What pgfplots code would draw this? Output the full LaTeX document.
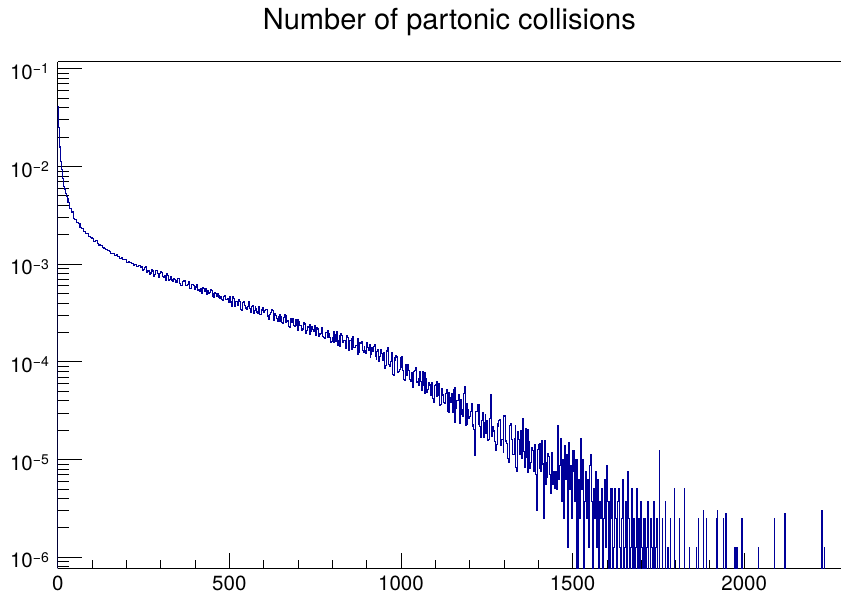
\documentclass[border=0pt]{standalone}
\usepackage{fontspec}
\setmainfont{TeX Gyre Heros}
\usepackage{pgfplots}
\pgfplotsset{compat=1.18}
\definecolor{rootblue}{rgb}{0,0,0.6}
\newcommand{\tp}[1]{10\raisebox{5.5bp}{\fontsize{14bp}{14bp}\selectfont −#1}}
\begin{document}
\begin{tikzpicture}
\useasboundingbox (0,0) rectangle (841bp,595bp);
\begin{axis}[
  at={(57.7bp,26.7bp)}, anchor=south west,
  width=783.3bp, height=506.6bp, scale only axis,
  xmin=0, xmax=2282, ymin=7.71e-7, ymax=0.118, ymode=log,
  axis x line*=box, axis y line*=left,
  tick pos=left, tick align=inside,
  xtick={0,500,1000,1500,2000}, xticklabels={0,500,1000,1500,2000},
  minor x tick num=4,
  ytick={1e-6,1e-5,1e-4,1e-3,1e-2,1e-1},
  yticklabels={\tp{6},\tp{5},\tp{4},\tp{3},\tp{2},\tp{1}},
  minor ytick={8e-7,9e-7,2e-6,3e-6,4e-6,5e-6,6e-6,7e-6,8e-6,9e-6,2e-5,3e-5,4e-5,5e-5,6e-5,7e-5,8e-5,9e-5,2e-4,3e-4,4e-4,5e-4,6e-4,7e-4,8e-4,9e-4,2e-3,3e-3,4e-3,5e-3,6e-3,7e-3,8e-3,9e-3,2e-2,3e-2,4e-2,5e-2,6e-2,7e-2,8e-2,9e-2},
  every major x tick/.append style={/pgfplots/major tick length=15.7bp},
  every minor x tick/.append style={/pgfplots/minor tick length=8.3bp},
  every major y tick/.append style={/pgfplots/major tick length=24bp},
  every minor y tick/.append style={/pgfplots/minor tick length=11.5bp},
  tick style={black, line width=0.8bp},
  axis line style={black, line width=0.8bp},
  xticklabel style={anchor=base, inner sep=0pt, yshift=-21.7bp, font=\fontsize{20.5bp}{20.5bp}\selectfont},
  yticklabel style={anchor=base east, inner sep=0pt, xshift=-8.7bp, yshift=-10.6bp, font=\fontsize{20.5bp}{20.5bp}\selectfont},
  title={Number of partonic collisions},
  every axis title/.style={at={(0.5,1)}, anchor=base, inner sep=0pt, yshift=32.4bp, font=\fontsize{29bp}{29bp}\selectfont},
]
\addplot[const plot mark left, rootblue, line width=1.1bp, no marks] coordinates {
(0,1e-9) (0,0.041) (1,0.034) (2,0.029) (3,0.0248) (4,0.0212) (5,0.0182) (6,0.0158) (7,0.0139) (8,0.0124) (9,0.0112)
(10,0.0103) (11,0.00967) (12,0.0093) (13,0.0083) (14,0.00799) (15,0.0075) (16,0.0072) (17,0.0064) (18,0.0062) (19,0.00604)
(20,0.00588) (21,0.0059) (22,0.0054) (23,0.00543) (24,0.00529) (25,0.0053) (26,0.0049) (27,0.00489) (28,0.00476) (29,0.00464)
(30,4.30e-3) (35,3.70e-3) (40,3.42e-3) (45,2.96e-3) (50,2.87e-3) (55,2.64e-3) (60,2.58e-3) (65,2.35e-3) (70,2.33e-3) (75,2.17e-3)
(80,2.05e-3) (85,2.04e-3) (90,1.90e-3) (95,1.89e-3)
(100,1.83e-3) (105,1.72e-3) (110,1.74e-3) (115,1.63e-3) (120,1.57e-3) (125,1.56e-3) (130,1.47e-3) (135,1.46e-3) (140,1.41e-3) (145,1.38e-3)
(150,1.35e-3) (155,1.29e-3) (160,1.29e-3) (165,1.23e-3) (170,1.25e-3) (175,1.21e-3) (180,1.15e-3) (185,1.16e-3) (190,1.12e-3) (195,1.11e-3)
(200,1.05e-3) (205,1.07e-3) (210,1.04e-3) (215,1.02e-3) (220,9.7e-4) (225,9.9e-4) (230,9.5e-4) (235,9.6e-4) (240,9.2e-4)
(245,9.54e-4) (247.5,8.53e-4) (250,8.75e-4) (252.5,9.19e-4) (255,9.48e-4) (257.5,9.41e-4) (260,8.15e-4) (262.5,8.51e-4) (265,8.65e-4) (267.5,7.91e-4)
(270,8.12e-4) (272.5,8.80e-4) (275,8.61e-4) (277.5,8.35e-4) (280,7.55e-4) (282.5,7.82e-4) (285,8.54e-4) (287.5,8.54e-4) (290,7.98e-4) (292.5,7.29e-4)
(295,7.48e-4) (297.5,7.99e-4) (300,8.37e-4) (302.5,8.13e-4) (305,7.52e-4) (307.5,7.35e-4) (310,7.71e-4) (312.5,7.48e-4) (315,6.89e-4) (317.5,7.96e-4)
(320,7.60e-4) (322.5,6.80e-4) (325,6.97e-4) (327.5,7.44e-4) (330,7.55e-4) (332.5,6.88e-4) (335,6.60e-4) (337.5,7.05e-4) (340,7.00e-4) (342.5,6.51e-4)
(345,6.74e-4) (347.5,6.47e-4) (350,7.06e-4) (352.5,7.07e-4) (355,6.34e-4) (357.5,6.03e-4) (360,6.03e-4) (362.5,6.61e-4) (365,6.62e-4) (367.5,6.72e-4)
(370,6.76e-4) (372.5,6.07e-4) (375,6.07e-4) (377.5,6.18e-4) (380,6.18e-4) (382.5,6.57e-4) (385,5.65e-4) (387.5,5.61e-4) (390,6.24e-4) (392.5,6.15e-4)
(395,6.01e-4) (397.5,5.69e-4) (400,5.46e-4) (402.5,5.83e-4) (405,6.16e-4) (407.5,5.39e-4) (410,5.44e-4) (412.5,5.27e-4) (415,5.54e-4) (417.5,5.68e-4)
(420,5.02e-4) (422.5,5.81e-4) (425,5.60e-4) (427.5,5.25e-4) (430,5.64e-4) (432.5,4.88e-4) (435,4.97e-4) (437.5,5.43e-4) (440,5.06e-4) (442.5,5.14e-4)
(445,5.44e-4) (447.5,5.43e-4) (450,4.96e-4) (452.5,4.65e-4) (455,4.61e-4) (457.5,5.08e-4) (460,5.01e-4) (462.5,4.70e-4) (465,5.05e-4) (467.5,4.82e-4)
(470,4.52e-4) (472.5,4.45e-4) (475,4.71e-4) (477.5,4.35e-4) (480,4.25e-4) (482.5,4.69e-4) (485,4.73e-4) (487.5,4.80e-4) (490,4.33e-4) (492.5,4.34e-4)
(495,4.42e-4) (497.5,4.04e-4)
(500,4.66e-4) (502.5,4.18e-4) (505,4.08e-4) (507.5,3.73e-4) (510,4.68e-4) (512.5,4.48e-4) (515,3.70e-4) (517.5,4.15e-4) (520,4.12e-4) (522.5,3.78e-4)
(525,3.75e-4) (527.5,4.39e-4) (530,4.16e-4) (532.5,3.41e-4) (535,3.39e-4) (537.5,4.02e-4) (540,4.19e-4) (542.5,4.16e-4) (545,3.79e-4) (547.5,3.56e-4)
(550,3.44e-4) (552.5,3.70e-4) (555,4.16e-4) (557.5,4.13e-4) (560,3.53e-4) (562.5,3.22e-4) (565,3.71e-4) (567.5,3.78e-4) (570,3.11e-4) (572.5,3.36e-4)
(575,3.70e-4) (577.5,3.54e-4) (580,3.24e-4) (582.5,3.13e-4) (585,3.72e-4) (587.5,3.05e-4) (590,3.02e-4) (592.5,3.47e-4) (595,3.36e-4) (597.5,3.63e-4)
(600,3.19e-4) (602.5,3.34e-4) (605,3.47e-4) (607.5,3.45e-4) (610,2.93e-4) (612.5,2.95e-4) (615,2.73e-4) (617.5,3.07e-4) (620,3.20e-4) (622.5,3.41e-4)
(625,3.35e-4) (627.5,2.67e-4) (630,2.83e-4) (632.5,3.12e-4) (635,2.95e-4) (637.5,2.78e-4) (640,2.57e-4) (642.5,2.92e-4) (645,3.05e-4) (647.5,2.59e-4)
(650,2.90e-4) (652.5,2.52e-4) (655,2.50e-4) (657.5,2.87e-4) (660,3.06e-4) (662.5,3.00e-4) (665,2.53e-4) (667.5,2.58e-4) (670,2.63e-4) (672.5,2.30e-4)
(675,2.25e-4) (677.5,2.77e-4) (680,2.72e-4) (682.5,2.56e-4) (685,2.78e-4) (687.5,2.34e-4) (690,2.29e-4) (692.5,2.72e-4) (695,2.38e-4) (697.5,2.11e-4)
(700,2.69e-4) (702.5,2.58e-4) (705,2.34e-4) (707.5,2.38e-4) (710,2.10e-4) (712.5,2.17e-4) (715,2.43e-4) (717.5,2.53e-4) (720,2.48e-4) (722.5,1.96e-4)
(725,2.09e-4) (727.5,2.31e-4) (730,2.27e-4) (732.5,2.39e-4) (735,1.92e-4) (737.5,2.05e-4) (740,2.31e-4) (742.5,2.13e-4) (745,2.03e-4) (747.5,2.37e-4)
(750,2.11e-4) (752.5,1.85e-4) (755,2.26e-4) (757.5,2.17e-4) (760,1.84e-4) (762.5,1.93e-4) (765,1.94e-4) (767.5,2.03e-4) (770,2.23e-4) (772.5,1.81e-4)
(775,1.79e-4) (777.5,1.75e-4) (780,1.98e-4) (782.5,2.00e-4) (785,1.78e-4) (787.5,2.09e-4) (790,1.97e-4) (792.5,1.79e-4) (795,1.59e-4) (797.5,1.61e-4)
(800,1.77e-4) (802.5,1.58e-4) (805,2.03e-4) (807.5,1.91e-4) (810,1.60e-4) (812.5,2.05e-4) (815,1.46e-4) (817.5,1.65e-4) (820,1.84e-4) (822.5,1.43e-4)
(825,1.97e-4) (827.5,1.86e-4) (830,1.57e-4) (832.5,1.67e-4) (835,1.66e-4) (837.5,1.48e-4) (840,1.38e-4) (842.5,1.84e-4) (845,1.77e-4) (847.5,1.30e-4)
(850,1.65e-4) (852.5,1.64e-4) (855,1.35e-4) (857.5,1.73e-4) (860,1.81e-4) (862.5,1.40e-4) (865,1.39e-4) (867.5,1.48e-4) (870,1.47e-4) (872.5,1.75e-4)
(875,1.20e-4) (877.5,1.24e-4) (880,1.57e-4) (882.5,1.56e-4) (885,1.62e-4) (887.5,1.32e-4) (890,1.24e-4) (892.5,1.42e-4) (895,1.31e-4) (897.5,1.21e-4)
(900,1.58e-4) (902.5,1.41e-4) (905,1.30e-4) (907.5,1.49e-4) (910,1.12e-4) (912.5,1.20e-4) (915,1.39e-4) (917.5,1.28e-4) (920,1.45e-4) (922.5,1.51e-4)
(925,1.14e-4) (927.5,1.07e-4) (930,1.28e-4) (932.5,1.34e-4) (935,1.02e-4) (937.5,1.14e-4) (940,1.33e-4) (942.5,1.23e-4) (945,1.10e-4) (947.5,1.03e-4)
(950,1.24e-4) (952.5,8.6e-5) (955,9.1e-5) (957.5,1.29e-4) (960,1.41e-4) (962.5,1.09e-4) (965,9.4e-5) (967.5,8.97e-5) (970,1.01e-4) (972.5,1.25e-4)
(975,7.4e-5) (977.5,7.3e-5) (980,1.11e-4) (982.5,1.04e-4) (985,1.17e-4) (987.5,1.12e-4) (990,7.7e-5) (992.5,8.05e-5) (995,8.4e-5) (997.5,8.7e-5)
(1000,1.11e-4) (1002.5,1.12e-4) (1005,8.15e-5) (1007.5,6.6e-5) (1010,6.5e-5) (1012.5,9.3e-5) (1015,8.9e-5) (1017.5,7.2e-5) (1020,9.4e-5) (1022.5,8.1e-5)
(1025,6.55e-5) (1027.5,6.3e-5) (1030,7.75e-5) (1032.5,5.9e-5) (1035,5.5e-5) (1037.5,7.9e-5) (1040,8.2e-5) (1042.5,8.8e-5) (1045,6.2e-5) (1047.5,6.3e-5)
(1050,6.75e-5) (1052.5,5.8e-5) (1055,7.98e-5) (1057.5,6.26e-5) (1060,5.1e-5) (1062.5,8.0e-5) (1065,5.7e-5) (1067.5,4.74e-5) (1070,7.7e-5) (1072.5,6.7e-5)
(1075,4.85e-5) (1077.5,5.2e-5) (1080,6.1e-5) (1082.5,5.8e-5) (1085,4.85e-5) (1087.5,4.5e-5) (1090,6.1e-5) (1092.5,4.26e-5) (1095,3.8e-5) (1097.5,5.67e-5)
(1100,5.9e-5) (1102.5,6.3e-5) (1105,4.47e-5) (1107.5,4.52e-5) (1110,6.05e-5) (1112.5,3.59e-5) (1115,3.66e-5) (1117.5,5.37e-5) (1120,4.6e-5) (1122.5,4.53e-5)
(1125,3.8e-5) (1127.5,3.74e-5) (1130,4.75e-5) (1132.5,5.21e-5) (1135,3.1e-5) (1137.5,3.03e-5) (1140,4.9e-5) (1142.5,4.31e-5) (1145,3.88e-5) (1147.5,4.69e-5)
(1150,3.0e-5) (1152.5,5.2e-5) (1155,5.5e-5) (1157.5,2.39e-5) (1160,3.33e-5) (1162.5,4.05e-5) (1165,4.0e-5) (1167.5,4.63e-5) (1170,2.35e-5) (1172.5,2.88e-5)
(1175,4.1e-5) (1177.5,3.24e-5) (1180,2.76e-5) (1182.5,4.74e-5) (1185,5.6e-5) (1187.5,2.24e-5) (1190,2.31e-5) (1192.5,3.74e-5) (1195,3.25e-5) (1197.5,2.61e-5)
(1200,2.77e-5) (1202.5,3.11e-5) (1205,3.77e-5) (1207.5,2.19e-5) (1210,2.26e-5) (1212.5,2.04e-5) (1215,1.1e-5) (1217.5,3.12e-5) (1220,3.08e-5) (1222.5,3.67e-5)
(1225,3.63e-5) (1227.5,2.30e-5) (1230,2.19e-5) (1232.5,1.67e-5) (1235,2.49e-5) (1237.5,3.04e-5) (1240,1.68e-5) (1242.5,2.39e-5) (1245,2.91e-5) (1247.5,1.83e-5)
(1250,2.51e-5) (1252.5,1.57e-5) (1255,1.62e-5) (1257.5,2.61e-5) (1260,4.6e-5) (1262.5,1.83e-5) (1265,1.74e-5) (1267.5,2.18e-5) (1270,1.96e-5) (1272.5,1.54e-5)
(1275,1.25e-5) (1277.5,1.43e-5) (1280,2.31e-5) (1282.5,2.18e-5) (1285,2.52e-5) (1287.5,2.57e-5) (1290,1.39e-5) (1292.5,1.61e-5) (1295,1.59e-5) (1297.5,1.17e-5)
(1300,2.82e-5) (1302.5,2.79e-5) (1305,1.55e-5) (1307.5,1.46e-5) (1310,1.02e-5) (1312.5,9.4e-6) (1315,2.0e-5) (1317.5,2.22e-5) (1320,2.31e-5) (1322.5,1.59e-5)
(1325,1.13e-5) (1327.5,1.12e-5) (1330,1.64e-5) (1332.5,2.25e-5) (1335,8.3e-6) (1337.5,7.6e-6) (1340,1.95e-5) (1342.5,1.61e-5) (1345,1.13e-5) (1347.5,1.98e-5)
(1350,1.36e-5) (1352.5,1.02e-5) (1355,2.6e-5) (1357.5,1.21e-5) (1360,8.3e-6) (1362.5,2.10e-5) (1365,1.06e-5) (1367.5,7.4e-6) (1370,2.01e-5) (1372.5,1.54e-5)
(1375,8.1e-6) (1377.5,9.4e-6) (1380,1.32e-5) (1382.5,1.23e-5) (1385,8.6e-6) (1387.5,7.6e-6) (1390,1.42e-5) (1392.5,7.0e-6) (1395,3.0e-6) (1397.5,1.28e-5)
(1400,1.41e-5) (1402.5,1.47e-5) (1405,8.1e-6) (1407.5,7.6e-6) (1410,1.55e-5) (1412.5,9.0e-6) (1415,2.5e-6) (1417.5,1.55e-5) (1420,9.3e-6) (1422.5,5.5e-6)
(1425,6.6e-6) (1427.5,1.15e-5) (1430,1.07e-5) (1432.5,7.0e-6) (1435,4.5e-6) (1437.5,9.1e-6) (1440,1.19e-5) (1442.5,5.6e-6) (1445,7.5e-6) (1447.5,5.1e-6)
(1450,7.5e-6) (1453,5e-6) (1456,2.25e-5) (1459,6.25e-6) (1462,8.75e-6) (1465,1.63e-5) (1468,3.75e-6) (1471,1e-5) (1474,2.5e-6) (1477,1.38e-5)
(1480,6.25e-6) (1483,1.13e-5) (1486,1.25e-6) (1489,1.5e-5) (1492,5e-6) (1495,8.75e-6) (1498,2.5e-6) (1501,1.25e-5) (1504,7.5e-6) (1507,3.75e-6)
(1510,1e-5) (1513,1e-9) (1516,6.25e-6) (1519,2.5e-6) (1522,1.63e-5) (1525,5e-6) (1528,1e-5) (1531,1e-9) (1534,3.75e-6) (1537,7.5e-6)
(1540,2.5e-6) (1543,6.25e-6) (1546,1.25e-6) (1549,8.75e-6) (1552,1.13e-5) (1555,3.75e-6) (1558,1e-9) (1561,5e-6) (1564,2.5e-6) (1567,7.5e-6)
(1570,1.25e-6) (1573,6.25e-6) (1576,1e-9) (1579,3.75e-6) (1582,2.5e-6) (1585,5e-6) (1588,1e-9) (1591,2.5e-6) (1594,6.25e-6) (1597,1.25e-6)
(1600,8.75e-6) (1603,3.75e-6) (1606,1e-9) (1609,2.5e-6) (1612,5e-6) (1615,1e-9) (1618,1.25e-6) (1621,5e-6) (1624,2.5e-6) (1627,1e-9)
(1630,3.75e-6) (1633,5e-6) (1636,1.25e-6) (1639,1e-9) (1642,2.5e-6) (1645,6.25e-6) (1648,1e-9) (1651,1.25e-6) (1654,3.75e-6) (1657,1e-9)
(1660,7.5e-6) (1663,2.5e-6) (1666,1e-9) (1669,1.25e-6) (1672,5e-6) (1675,1e-9) (1678,2.5e-6) (1681,1e-9) (1684,1.25e-6) (1687,5e-6)
(1690,1e-9) (1693,2.5e-6) (1696,1e-9) (1699,3.75e-6) (1702,1.25e-6) (1705,1e-9) (1708,2.5e-6) (1711,1e-9) (1714,1.25e-6) (1717,3.75e-6)
(1720,1e-9) (1726,2.5e-6) (1729,1.25e-6) (1732,1e-9) (1735,3.75e-6) (1738,1e-9) (1741,1.25e-6) (1744,2.5e-6) (1747,1e-9) (1753,1.25e-5)
(1754,1e-9) (1762,2.5e-6) (1763,1e-9) (1770,3.75e-6) (1771,1e-9) (1778,1.25e-6) (1779,1e-9) (1785,2.5e-6) (1786,1e-9) (1797,5e-6)
(1798,1e-9) (1811,2.5e-6) (1812,1e-9) (1826,5e-6) (1827,1e-9) (1840,1.25e-6) (1841,1e-9) (1860,1.25e-6) (1861,1e-9) (1866,2.5e-6)
(1867,1e-9) (1881,3e-6) (1882,1e-9) (1890,2.5e-6) (1891,1e-9) (1918,2.5e-6) (1919,1e-9) (1921,3e-6) (1922,1e-9) (1939,2.5e-6)
(1940,1e-9) (1947,2.8e-6) (1948,1e-9) (1973,1.25e-6) (1974,1e-9) (1979,1.25e-6) (1980,1e-9) (1993,2.5e-6) (1994,1e-9) (2041,1.25e-6)
(2042,1e-9) (2087,2.5e-6) (2088,1e-9) (2118,2.8e-6) (2119,1e-9) (2226,3e-6) (2227,1e-9) (2234,1.25e-6) (2235,1e-9) (2282,1e-9)
};
\end{axis}
\end{tikzpicture}
\end{document}
